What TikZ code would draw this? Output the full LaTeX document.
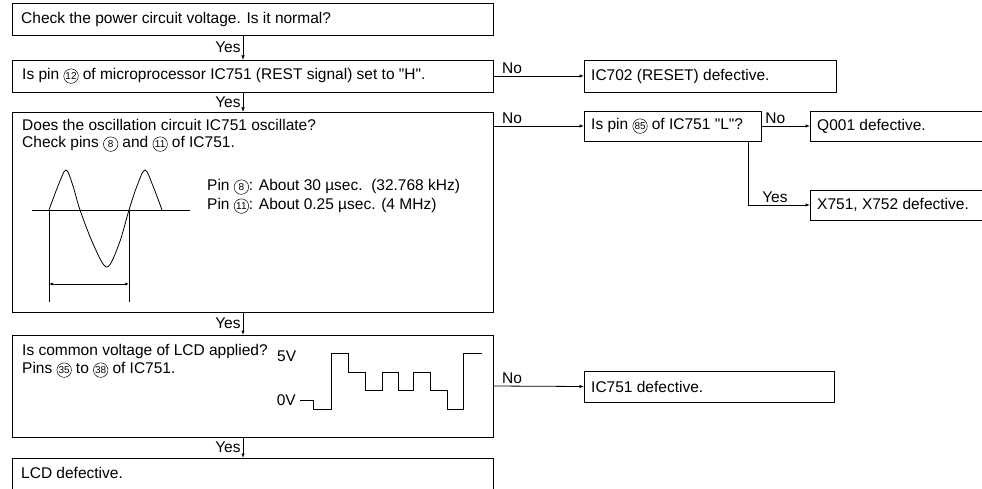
\documentclass[tikz,border=0pt]{standalone}
\usepackage{fontspec}
\setmainfont{Liberation Sans}
\usetikzlibrary{arrows.meta,positioning}
\tikzset{
	>={Latex[length=4.5pt,width=3.4pt]},
	box/.style={draw, line width=0.8pt, anchor=north west, inner sep=0pt, outer sep=0pt},
	txt/.style={anchor=west, inner sep=0pt, font=\fontsize{15.5}{19}\selectfont},
	flow/.style={->, line width=0.8pt},
	yes/.style={left, inner sep=2pt, font=\fontsize{15.5}{19}\selectfont},
	no/.style={anchor=south west, inner sep=1.5pt, font=\fontsize{15.5}{19}\selectfont},
	wave/.style={line width=0.8pt},
	dim/.style={<->, line width=0.7pt, >={Latex[length=4pt,width=3pt]}},
}
% circled pin number
\newcommand{\pinno}[1]{\tikz[baseline={([yshift=-3.5pt]pn.center)}]\node[circle, draw, line width=0.5pt, inner sep=0pt, minimum size=14.5pt, font=\fontsize{10}{10}\selectfont] (pn) {#1};}

\begin{document}
\begin{tikzpicture}[x=1pt, y=-1pt]
	\useasboundingbox (0,0) rectangle (982,489);
	\clip (0,0) rectangle (982,489);
	
	% Main column of checks
	\node[box, minimum width=481pt, minimum height=32pt] (power) at (12,3) {};
	\node[txt] (powertxt) at ([xshift=9pt]power.west) {Check the power circuit voltage. Is it normal?};
	
	\node[box, minimum width=481pt, minimum height=32pt] (reset) at (12,60) {};
	\node[txt] (resettxt) at ([xshift=10pt]reset.west) {Is pin \pinno{12} of microprocessor IC751 (REST signal) set to \textquotedbl H\textquotedbl .};
	
	\node[box, minimum width=481pt, minimum height=200pt] (osc) at (12,112) {};
	\node[txt] (osctxt1) at (22,125) {Does the oscillation circuit IC751 oscillate?};
	\node[txt] (osctxt2) at (22,144) {Check pins \pinno{8} and \pinno{11} of IC751.};
	\node[txt] (pin8) at (207,187) {Pin \pinno{8}: About 30 µsec.\ \ (32.768 kHz)};
	\node[txt] (pin11) at (207,206) {Pin \pinno{11}: About 0.25 µsec. (4 MHz)};
	
	\node[box, minimum width=481pt, minimum height=102pt] (lcdv) at (12,335) {};
	\node[txt] (lcdvtxt1) at (22,351) {Is common voltage of LCD applied?};
	\node[txt] (lcdvtxt2) at (22,370) {Pins \pinno{35} to \pinno{38} of IC751.};
	\node[txt] (fivev) at (277,356) {5V};
	\node[txt, anchor=east] (zerov) at (296,400) {0V};
	
	\node[box, minimum width=481pt, minimum height=60pt] (lcd) at (12,458) {};
	\node[txt] (lcdtxt) at (21,473) {LCD defective.};
	
	% Results on the right
	\node[box, minimum width=252pt, minimum height=32pt] (ic702) at (584,60) {};
	\node[txt] (ic702txt) at ([xshift=7pt]ic702.west) {IC702 (RESET) defective.};
	
	\node[box, minimum width=177pt, minimum height=30pt] (pin85) at (584,111) {};
	\node[txt] (pin85txt) at ([xshift=7pt]pin85.west) {Is pin \pinno{85} of IC751 \textquotedbl L\textquotedbl ?};
	
	\node[box, minimum width=190pt, minimum height=30pt] (q001) at (810,111) {};
	\node[txt] (q001txt) at ([xshift=7pt]q001.west) {Q001 defective.};
	
	\node[box, minimum width=190pt, minimum height=30pt] (xtal) at (810,190) {};
	\node[txt] (xtaltxt) at ([xshift=7pt]xtal.west) {X751, X752 defective.};
	
	\node[box, minimum width=250pt, minimum height=31pt] (ic751) at (584,371) {};
	\node[txt] (ic751txt) at ([xshift=7pt]ic751.west) {IC751 defective.};
	
	% Yes arrows
	\coordinate (ycol) at (243,0);
	\draw[flow] (power.south -| ycol) -- node[yes] (yes1) {Yes} (reset.north -| ycol);
	\draw[flow] (reset.south -| ycol) -- node[yes] (yes2) {Yes} (osc.north -| ycol);
	\draw[flow] (osc.south -| ycol) -- node[yes] (yes3) {Yes} (lcdv.north -| ycol);
	\draw[flow] (lcdv.south -| ycol) -- node[yes] (yes4) {Yes} (lcd.north -| ycol);
	
	% No arrows
	\draw[flow] (reset.east) -- node[no, pos=0.08] (no1) {No} (ic702.west);
	\draw[flow] (osc.east |- pin85.west) -- node[no, pos=0.08] (no2) {No} (pin85.west);
	\draw[flow] (pin85.east) -- node[no, pos=0.05] (no3) {No} (q001.west);
	\draw[flow] (lcdv.east) -- node[no, pos=0.08] (no4) {No} (ic751.west);
	\coordinate (ycol2) at (748,0);
	\draw[flow] (pin85.south -| ycol2) |- node[no, pos=0.6] (yes5) {Yes} (xtal.west);
	
	% Oscillation waveform
	\draw[wave] (32,210) -- (190,210);
	\draw[wave] plot[smooth, tension=0.55] coordinates {(49,210) (58,186) (66,170) (73,186) (80,210) (94,246) (107,267) (119,244) (129,210) (137,186) (145,170) (153,186) (162,210)};
	\coordinate (pa) at (49,210);
	\coordinate (pb) at (129,210);
	\draw[line width=0.6pt] (pa) -- ++(0,92);
	\draw[line width=0.6pt] (pb) -- ++(0,92);
	\draw[dim] ([yshift=-74pt]pa) -- ([yshift=-74pt]pb);
	
	% Common voltage waveform
	\draw[wave] (300,400) -- (313,400) -- (313,409) -- (331,409) -- (331,353) -- (348,353) -- (348,372) -- (365,372) -- (365,390) -- (382,390) -- (382,372) -- (398,372) -- (398,390) -- (413,390) -- (413,372) -- (430,372) -- (430,390) -- (447,390) -- (447,409) -- (463,409) -- (463,353) -- (482,353);
	
\end{tikzpicture}
\end{document}
